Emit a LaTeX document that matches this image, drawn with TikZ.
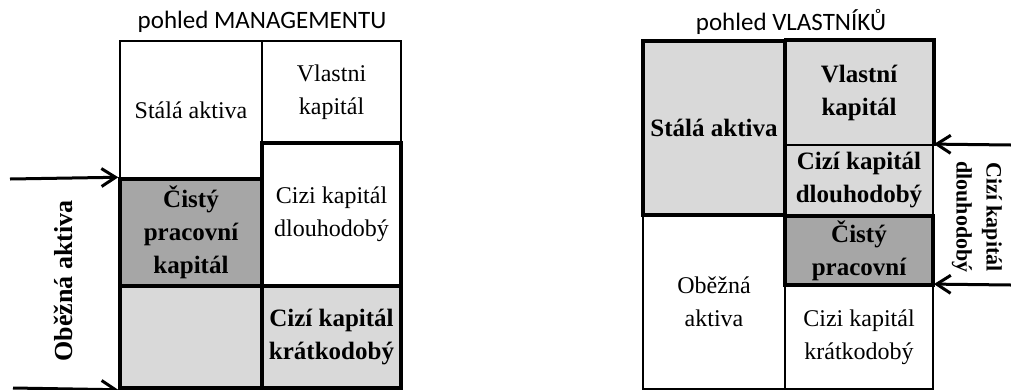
\documentclass[tikz,border=0pt]{standalone}
\usepackage{fontspec}
\setmainfont{Liberation Serif}
\newfontfamily\titlefont{Carlito}
\usetikzlibrary{arrows.meta}
\definecolor{lightcell}{HTML}{D9D9D9}
\definecolor{darkcell}{HTML}{A6A6A6}

\begin{document}
\begin{tikzpicture}[x=1pt,y=-1pt,
cell/.style={draw,line width=1.8pt,inner sep=0pt,align=center,font=\fontsize{24}{33}\selectfont},
boldcell/.style={cell,font=\fontsize{25}{33}\selectfont\bfseries},
thickcell/.style={line width=3.5pt},
heading/.style={font=\titlefont\fontsize{25}{30}\selectfont},
sidelabel/.style={align=center,inner sep=0pt,font=\fontsize{22}{30}\selectfont\bfseries},
inarrow/.style={-{Straight Barb[length=14pt,width=18pt,line width=3pt]},line width=3pt}]
\useasboundingbox (0,0) rectangle (1011,389);
\node[heading] (titleM) at (262,22) {pohled MANAGEMENTU};
\node[heading] (titleV) at (791,22) {pohled VLASTNÍKŮ};
\node[cell,minimum width=142pt,minimum height=138pt] (sa1) at (191,110) {Stálá aktiva};
\node[cell,minimum width=139pt,minimum height=102pt] (vk1) at (331.5,92) {Vlastni\\kapitál};
\node[boldcell,thickcell,fill=darkcell,minimum width=142pt,minimum height=107pt] (cpk1) at (191,232.5) {Čistý\\pracovní\\kapitál};
\node[cell,thickcell,fill=lightcell,minimum width=142pt,minimum height=102pt] (oa1) at (191,337) {};
\node[cell,thickcell,minimum width=139pt,minimum height=143pt] (kd1) at (331.5,214.5) {Cizi kapitál\\dlouhodobý};
\node[boldcell,thickcell,fill=lightcell,minimum width=139pt,minimum height=102pt] (kk1) at (331.5,337) {Cizí kapitál\\krátkodobý};
\node[sidelabel,rotate=90,font=\fontsize{26}{33}\selectfont\bfseries] (oaLabel) at (63,281) {Oběžná aktiva};
\coordinate (inTop) at (10,179);
\coordinate (inBot) at (13,388);
\draw[inarrow] (inTop) -- (cpk1.north west);
\draw[inarrow] (inBot) -- (oa1.south west);
\node[cell,minimum width=142pt,minimum height=174pt] (oa2) at (714,302) {Oběžná\\aktiva};
\node[cell,minimum width=148pt,minimum height=104pt] (kk2) at (859,337) {Cizi kapitál\\krátkodobý};
\node[boldcell,fill=lightcell,minimum width=148pt,minimum height=104pt] (vk2) at (859,93) {Vlastní\\kapitál};
\node[boldcell,fill=lightcell,minimum width=148pt,minimum height=71pt] (dl2) at (859,180.5) {Cizí kapitál\\dlouhodobý};
\node[boldcell,thickcell,fill=darkcell,minimum width=148pt,minimum height=69pt] (cp2) at (859,250.5) {Čistý\\pracovní};
\node[boldcell,thickcell,fill=lightcell,minimum width=142pt,minimum height=174pt] (sa2) at (714,128) {Stálá aktiva};
\draw[line width=3.5pt] (vk2.north west) -- (vk2.north east) -- (vk2.south east);
\node[sidelabel,rotate=-90] (dlLabel) at (977,217) {Cizí kapitál\\dlouhodobý};
\coordinate (outTop) at (1011,145);
\coordinate (outBot) at (1011,285);
\draw[inarrow] (outTop) -- (dl2.north east);
\draw[inarrow] (outBot) -- (kk2.north east);
\end{tikzpicture}
\end{document}
